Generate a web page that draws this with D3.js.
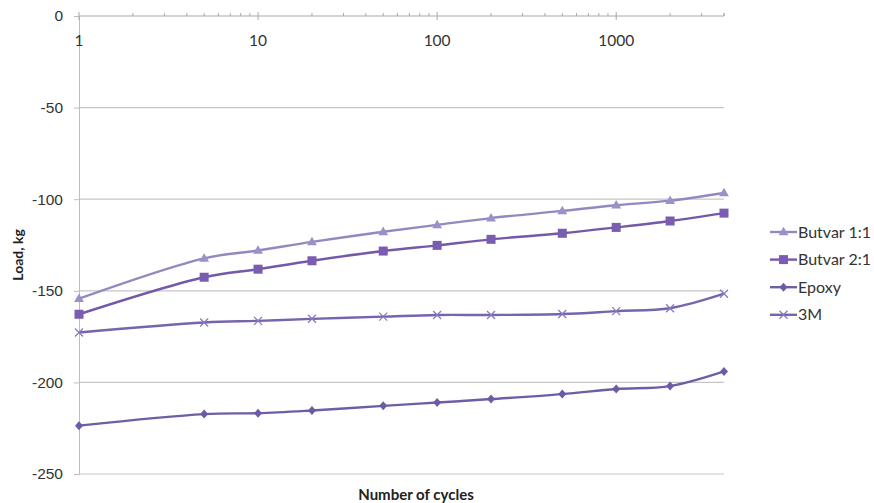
<!DOCTYPE html>
<html><head><meta charset="utf-8">
<script src="https://cdn.jsdelivr.net/npm/d3@7"></script>
<style>
html,body{margin:0;padding:0;background:#fff;}
svg{display:block;font-family:Lato,"Open Sans",sans-serif;}
</style></head>
<body><svg id="c" width="874" height="503"></svg>
<script>
const cycles = [1, 5, 10, 20, 50, 100, 200, 500, 1000, 2000, 4000];
const butvar11 = [-154.3, -132.3, -128, -123.3, -117.8, -114, -110.3, -106.4, -103.3, -100.8, -96.6];
const butvar21 = [-162.8, -142.6, -138.2, -133.6, -128.3, -125.2, -121.9, -118.6, -115.4, -111.9, -107.6];
const epoxy = [-223.6, -217.3, -216.8, -215.3, -212.8, -211, -209.1, -206.4, -203.6, -202, -194];
const m3 = [-172.8, -167.3, -166.4, -165.3, -164.1, -163.2, -163.2, -162.7, -161.1, -159.5, -151.6];
const seriesNames = ["Butvar 1:1", "Butvar 2:1", "Epoxy", "3M"];
const yTicks = [0, -50, -100, -150, -200, -250];
const xTicks = [1, 10, 100, 1000];

const series = [
  {name: seriesNames[0], vals: butvar11, color: "#9588c0", mcolor: "#9d90c8", shape: "tri"},
  {name: seriesNames[1], vals: butvar21, color: "#7559a8", mcolor: "#7a5cb0", shape: "sq"},
  {name: seriesNames[2], vals: epoxy, color: "#6f5ea6", mcolor: "#6d5ba5", shape: "dia"},
  {name: seriesNames[3], vals: m3, color: "#7664ae", mcolor: "#8a7abd", shape: "x"}
];

const svg = d3.select("#c");
const x = d3.scaleLog().domain([1, 4000]).range([79, 724]);
const y = d3.scaleLinear().domain([-250, 0]).range([474, 16]);

// gridlines
svg.append("g").selectAll("line").data(yTicks.filter(d => d !== 0)).join("line")
  .attr("x1", x(1)).attr("x2", x(4000))
  .attr("y1", d => y(d)).attr("y2", d => y(d))
  .attr("stroke", "#c6c6c6").attr("stroke-width", 1.2);

// left axis
const ya = svg.append("g").attr("transform", `translate(${x(1)},0)`)
  .call(d3.axisLeft(y).tickValues(yTicks).tickSize(5).tickPadding(11).tickFormat(d => String(d)));
ya.select(".domain").attr("stroke", "#bdbdbd");
ya.selectAll(".tick line").attr("stroke", "#bdbdbd");
ya.selectAll("text").attr("font-size", 15.5).attr("fill", "#333");

// top axis (at y=0)
const minor = [];
for (let dec = 1; dec <= 1000; dec *= 10) for (let k = 2; k <= 9; k++) if (dec * k <= 4000) minor.push(dec * k);
const xa = svg.append("g").attr("transform", `translate(0,${y(0)})`);
xa.append("line").attr("x1", x(1)).attr("x2", x(4000)).attr("stroke", "#a8a8a8");
xa.selectAll(".minor").data(minor).join("line").attr("class", "minor")
  .attr("x1", d => x(d)).attr("x2", d => x(d)).attr("y1", -3).attr("y2", 0).attr("stroke", "#a8a8a8");
xa.selectAll(".major").data(xTicks).join("line").attr("class", "major")
  .attr("x1", d => x(d)).attr("x2", d => x(d)).attr("y1", -4).attr("y2", 4).attr("stroke", "#a8a8a8");
xa.append("line").attr("x1", x(4000)).attr("x2", x(4000)).attr("y1", -3).attr("y2", 0).attr("stroke", "#a8a8a8");
xa.selectAll("text").data(xTicks).join("text")
  .attr("x", d => x(d)).attr("y", 30).attr("text-anchor", "middle")
  .attr("font-size", 15.5).attr("fill", "#333").text(d => d);

// lines
const line = d3.line().x(d => x(d[0])).y(d => y(d[1])).curve(d3.curveCatmullRom.alpha(0.5));

function marker(g, shape, color, cx, cy) {
  if (shape === "tri") {
    g.append("path").attr("d", d3.symbol(d3.symbolTriangle, 42)()).attr("transform", `translate(${cx},${cy + 0.5})`).attr("fill", color);
  } else if (shape === "sq") {
    g.append("rect").attr("x", cx - 4.5).attr("y", cy - 4.5).attr("width", 9).attr("height", 9).attr("fill", color);
  } else if (shape === "dia") {
    g.append("path").attr("d", `M${cx},${cy - 4.5}L${cx + 4},${cy}L${cx},${cy + 4.5}L${cx - 4},${cy}Z`).attr("fill", color);
  } else {
    g.append("path").attr("d", `M${cx - 4},${cy - 4}L${cx + 4},${cy + 4}M${cx - 4},${cy + 4}L${cx + 4},${cy - 4}`).attr("stroke", color).attr("stroke-width", 1.3).attr("fill", "none");
  }
}

const order = [3, 2, 1, 0];
order.forEach(i => {
  const s = series[i];
  const pts = cycles.map((c, j) => [c, s.vals[j]]);
  const g = svg.append("g");
  g.append("path").datum(pts).attr("d", line).attr("fill", "none")
    .attr("stroke", s.color).attr("stroke-width", 2.4);
  pts.forEach(p => marker(g, s.shape, s.mcolor, x(p[0]), y(p[1])));
});

// legend
const lg = svg.append("g");
series.forEach((s, i) => {
  const ly = 232 + i * 27.6;
  lg.append("line").attr("x1", 770).attr("x2", 797).attr("y1", ly).attr("y2", ly).attr("stroke", s.color).attr("stroke-width", 2.4);
  marker(lg, s.shape, s.mcolor, 783.5, ly);
  lg.append("text").attr("x", 798).attr("y", ly + 5.5).attr("font-size", 16).attr("fill", "#333").text(s.name);
});

// axis titles
svg.append("text").attr("transform", "translate(23,255) rotate(-90)").attr("text-anchor", "middle")
  .attr("font-size", 14).attr("font-weight", "bold").attr("fill", "#222").text("Load, kg");
svg.append("text").attr("x", 416).attr("y", 500).attr("text-anchor", "middle")
  .attr("font-size", 15).attr("font-weight", "bold").attr("fill", "#222").text("Number of cycles");
</script></body></html>
